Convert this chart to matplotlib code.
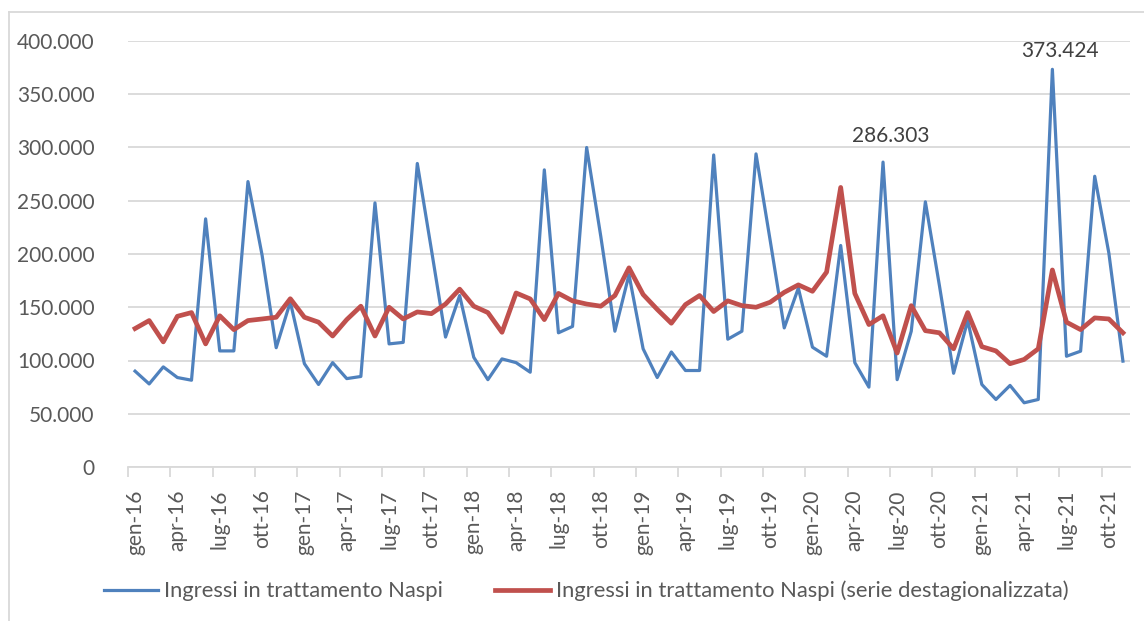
import matplotlib.pyplot as plt
from matplotlib.ticker import FuncFormatter, FixedLocator
from matplotlib.lines import Line2D

plt.rcParams['font.family'] = ['Lato', 'DejaVu Sans']

# monthly data gen-16 .. nov-21, thousands
naspi = [90, 78, 94, 84, 81.5, 233, 109, 109, 268, 199, 112, 155,
         97, 77.5, 98, 83, 85, 248, 115.6, 117, 285, 204, 122, 161,
         103, 82, 101.5, 98, 89, 279, 126, 132, 300, 216.6, 127.5, 180.6,
         111, 84, 108, 90.6, 90.6, 293, 120, 127.5, 294, 213, 130.6, 168,
         112.5, 104, 208, 98, 75, 286.303, 82, 127.5, 249, 170, 88, 137.5,
         77.5, 63.4, 76.6, 60.3, 63.4, 373.424, 104, 108.75, 273, 201, 99.4]
naspi_sa = [130, 137.5, 117.5, 141.5, 145, 115.6, 142, 129, 137.5, 139, 140.6, 158,
            140.6, 136, 123, 138.4, 151, 123, 150, 139, 145.6, 144, 153, 167,
            151, 145, 126.5, 163.4, 157.8, 138.4, 163, 156, 153, 151, 161, 187,
            162, 148, 135, 152.5, 161, 146, 156, 151.5, 150, 154.7, 164, 171,
            165, 183, 262.5, 163, 133.75, 142, 107, 151.5, 128, 126, 111, 145,
            113, 109, 97, 101, 111, 185, 136, 129, 140, 139, 126]
naspi = [v * 1000 for v in naspi]
naspi_sa = [v * 1000 for v in naspi_sa]

months = ['gen', 'apr', 'lug', 'ott']
years = ['16', '17', '18', '19', '20', '21']
tick_labels = [m + '-' + y for y in years for m in months]

label_idx = [53, 65]
label_off = [(8, 26), (8, 18)]

blue = '#4F81BD'
red = '#C0504D'
grid = '#D9D9D9'
txt = '#595959'

fig = plt.figure(figsize=(11.44, 6.21), dpi=100)
ax = fig.add_axes([128/1144, 1-467/621, (1130-128)/1144, (467-41)/621])

x = list(range(len(naspi)))
ax.plot(x, naspi, color=blue, lw=2.3, label='Ingressi in trattamento Naspi', solid_joinstyle='round')
ax.plot(x, naspi_sa, color=red, lw=3.4, label='Ingressi in trattamento Naspi (serie destagionalizzata)',
        solid_joinstyle='round')

for i, off in zip(label_idx, label_off):
    ax.annotate(f"{naspi[i]:,.0f}".replace(',', '.'), xy=(i, naspi[i]), xytext=off,
                textcoords='offset pixels', ha='center', va='center', fontsize=15, color='#404040')

ax.set_xlim(-0.5, len(naspi) - 0.5)
ax.set_ylim(0, 400000)
ax.set_yticks(range(0, 400001, 50000))
ax.yaxis.set_major_formatter(FuncFormatter(lambda v, p: f"{v:,.0f}".replace(',', '.')))
ax.grid(axis='y', color=grid, lw=1.3)
ax.set_axisbelow(True)

ax.xaxis.set_major_locator(FixedLocator([k - 0.5 for k in range(0, len(naspi), 3)]))
ax.xaxis.set_major_formatter(FuncFormatter(lambda v, p: ''))
ax.set_xticks(list(range(0, len(naspi), 3)), tick_labels, minor=True, rotation=90)
ax.tick_params(axis='x', which='major', length=7, color=grid, width=1.3)
ax.tick_params(axis='x', which='minor', length=0, pad=16, labelsize=15, labelcolor=txt)
ax.tick_params(axis='y', length=0, pad=24, labelsize=15, labelcolor=txt)

for s in ['left', 'right', 'top']:
    ax.spines[s].set_visible(False)
ax.spines['bottom'].set_color(grid)
ax.spines['bottom'].set_linewidth(1.3)

fig.legend(loc='center', bbox_to_anchor=(586/1144, 1-591/621), ncol=2, frameon=False,
           fontsize=15.8, labelcolor=txt, handlelength=2.5, handletextpad=0.25, columnspacing=2.4)

# chart frame
fig.add_artist(Line2D([9/1144, 9/1144], [0, 1-12/621], color=grid, lw=1.3))
fig.add_artist(Line2D([9/1144, 1], [1-12/621, 1-12/621], color=grid, lw=1.3))

fig.savefig('out.png', dpi=100)
